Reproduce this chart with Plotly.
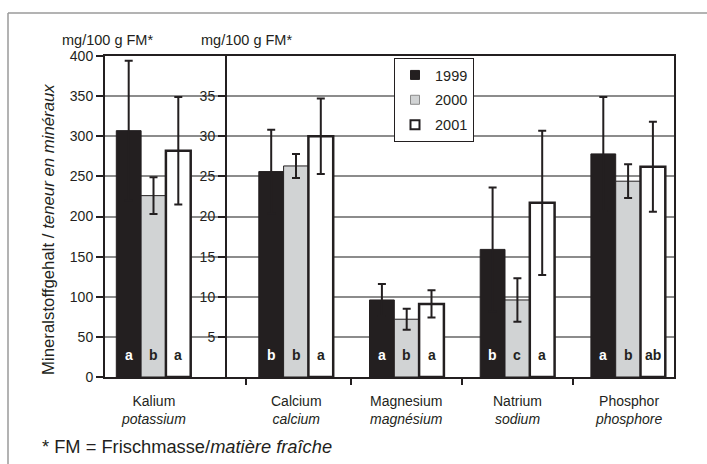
import plotly.graph_objects as go

# ---------------- data ----------------
CATEGORIES_DE = ["Kalium", "Calcium", "Magnesium", "Natrium", "Phosphor"]
CATEGORIES_FR = ["potassium", "calcium", "magnésium", "sodium", "phosphore"]
YEARS = ["1999", "2000", "2001"]

MEAN_1999 = [307, 25.6, 9.6, 15.9, 27.8]
MEAN_2000 = [226, 26.3, 7.2, 9.6, 24.4]
MEAN_2001 = [282, 30.0, 9.1, 21.7, 26.2]

SD_1999 = [87, 5.2, 2.0, 7.7, 7.1]
SD_2000 = [23, 1.5, 1.3, 2.7, 2.1]
SD_2001 = [67, 4.7, 1.7, 9.0, 5.6]

LETTERS_1999 = ["a", "b", "a", "b", "a"]
LETTERS_2000 = ["b", "b", "b", "c", "b"]
LETTERS_2001 = ["a", "a", "a", "a", "ab"]

LEFT_TICKS = [0, 50, 100, 150, 200, 250, 300, 350, 400]
RIGHT_TICKS = [5, 10, 15, 20, 25, 30, 35]

# ---------------- layout constants ----------------
W, H = 707, 464
L, R, T, B = 105, 674, 56, 377          # plot area in pixels
CENTERS = [48.5, 191, 301.7, 412.4, 523.1]   # group centres on the x axis (px units)
BOUNDARY_TICKS = [141, 246.3, 357, 467.7]
OFFSETS = [-24.8, 0, 24.8]
BAR_W = 24.8

DARK = "#231f20"
GRAY = "#d1d3d4"
FONT = "Liberation Sans, Arial, sans-serif"

def px_x(x):
    return (x - L) / (R - L)

def px_y(y):
    return (B - y) / (B - T)

means = [MEAN_1999, MEAN_2000, MEAN_2001]
sds = [SD_1999, SD_2000, SD_2001]
letters = [LETTERS_1999, LETTERS_2000, LETTERS_2001]
fills = [DARK, GRAY, "white"]
lines = [dict(color=DARK, width=1), dict(color=DARK, width=1), dict(color=DARK, width=2.5)]
letter_colors = ["white", DARK, DARK]

fig = go.Figure()
annotations = []

for j, year in enumerate(YEARS):
    # Kalium on the left axis, the rest on the right axis
    for idx, axis in (([0], "y"), ([1, 2, 3, 4], "y2")):
        fig.add_trace(go.Bar(
            x=[CENTERS[i] + OFFSETS[j] for i in idx],
            y=[means[j][i] for i in idx],
            width=BAR_W,
            yaxis=axis,
            marker=dict(color=fills[j], line=lines[j]),
            error_y=dict(type="data", array=[sds[j][i] for i in idx],
                         color=DARK, thickness=2, width=4),
            showlegend=False,
            hoverinfo="skip",
        ))
        for i in idx:
            annotations.append(dict(
                x=CENTERS[i] + OFFSETS[j], y=0, xref="x", yref=axis,
                yshift=22, showarrow=False,
                text="<b>%s</b>" % letters[j][i],
                font=dict(family=FONT, size=14, color=letter_colors[j]),
            ))
    # legend entries
    fig.add_trace(go.Scatter(
        x=[None], y=[None], mode="markers", name=year,
        legendgroup=year,
        marker=dict(symbol="square", size=9, color=fills[j],
                    line=dict(color=[DARK, "#8a8a8a", DARK][j], width=[1, 1, 2][j])),
    ))

# category labels
for i in range(len(CATEGORIES_DE)):
    annotations.append(dict(
        x=CENTERS[i], y=px_y(391), xref="x", yref="paper",
        xanchor="center", yanchor="top", showarrow=False,
        text="%s<br><i>%s</i>" % (CATEGORIES_DE[i], CATEGORIES_FR[i]),
        font=dict(family=FONT, size=14, color=DARK),
    ))

# units above the axes
for cx in (107, 246):
    annotations.append(dict(
        x=px_x(cx), y=px_y(40), xref="paper", yref="paper",
        xanchor="center", yanchor="middle", showarrow=False,
        text="mg/100 g FM*", font=dict(family=FONT, size=14.5, color=DARK),
    ))

# y title
annotations.append(dict(
    x=px_x(48), y=px_y(230), xref="paper", yref="paper",
    xanchor="center", yanchor="middle", showarrow=False, textangle=-90,
    text="Mineralstoffgehalt / <i>teneur en minéraux</i>",
    font=dict(family=FONT, size=16.8, color=DARK),
))

# footnote
annotations.append(dict(
    x=px_x(40), y=px_y(446), xref="paper", yref="paper",
    xanchor="left", yanchor="middle", showarrow=False,
    text="* FM = Frischmasse/<i>matière fraîche</i>",
    font=dict(family=FONT, size=18.3, color=DARK),
))

# outer frame (extends beyond the right and bottom edges)
shapes = [
    dict(type="line", xref="paper", yref="paper",
         x0=px_x(8), x1=px_x(720), y0=px_y(13), y1=px_y(13),
         line=dict(color="#9a9a9a", width=1.5)),
    dict(type="line", xref="paper", yref="paper",
         x0=px_x(8), x1=px_x(8), y0=px_y(13), y1=px_y(480),
         line=dict(color="#9a9a9a", width=1.5)),
]

fig.update_layout(
    width=W, height=H,
    margin=dict(l=L, r=W - R, t=T, b=H - B, pad=0),
    paper_bgcolor="white", plot_bgcolor="white",
    barmode="overlay",
    font=dict(family=FONT, size=14, color=DARK),
    xaxis=dict(range=[0, R - L], tickvals=BOUNDARY_TICKS, ticktext=[""] * 4,
               ticks="outside", ticklen=6, tickwidth=1.5, tickcolor=DARK,
               showgrid=False, zeroline=False,
               showline=True, linecolor=DARK, linewidth=2, mirror=True,
               fixedrange=True),
    yaxis=dict(range=[0, 400], tickvals=LEFT_TICKS,
               ticks="outside", ticklen=7, tickwidth=1.5, tickcolor=DARK,
               tickfont=dict(family=FONT, size=14, color=DARK),
               showgrid=True, gridcolor="#8c8c8c", gridwidth=1.5,
               zeroline=False, showline=True, linecolor=DARK, linewidth=2,
               mirror=True),
    yaxis2=dict(range=[0, 40], tickvals=RIGHT_TICKS, overlaying="y",
                anchor="free", position=px_x(226), side="left",
                ticks="outside", ticklen=7, tickwidth=1.5, tickcolor=DARK,
                tickfont=dict(family=FONT, size=14, color=DARK),
                showgrid=False, zeroline=False,
                showline=True, linecolor=DARK, linewidth=2),
    legend=dict(x=px_x(394), y=px_y(58), xanchor="left", yanchor="top",
                bgcolor="white", bordercolor=DARK, borderwidth=1,
                font=dict(family=FONT, size=14.5, color=DARK),
                tracegroupgap=3, traceorder="grouped"),
    annotations=annotations,
    shapes=shapes,
)

fig.write_html(
    "out.html",
    config={"displayModeBar": False},
    post_script="document.body.style.margin='0';document.body.style.overflow='hidden';",
)
